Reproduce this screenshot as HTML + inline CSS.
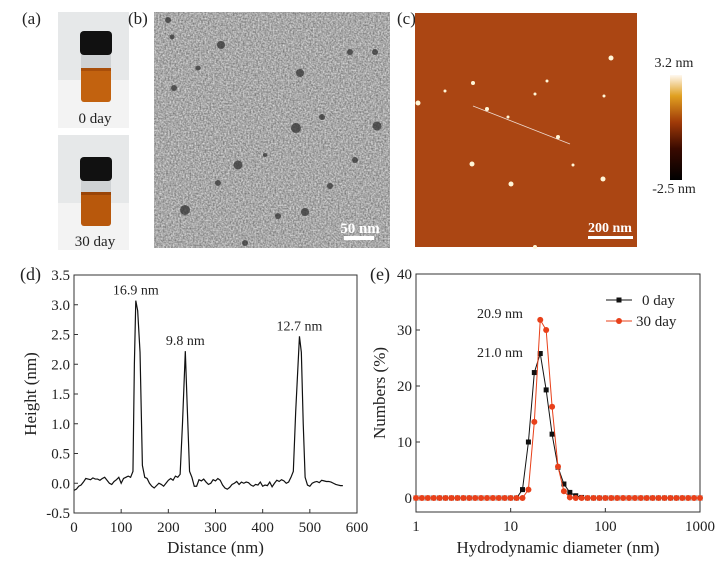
<!DOCTYPE html>
<html><head><meta charset="utf-8">
<style>
body{margin:0;background:#fff;width:719px;height:566px;overflow:hidden;font-family:"Liberation Serif",serif;}
svg{position:absolute;left:0;top:0}
text{font-family:"Liberation Serif",serif;fill:#222}
</style></head>
<body>
<svg width="719" height="566">
<defs>
<filter id="noise" x="0" y="0" width="100%" height="100%" color-interpolation-filters="sRGB">
<feTurbulence type="fractalNoise" baseFrequency="0.6" numOctaves="2" seed="3"/>
<feColorMatrix type="matrix" values="0.6 0 0 0 0.36  0.6 0 0 0 0.36  0.6 0 0 0 0.36  0 0 0 0 1"/>
</filter>
<linearGradient id="cbar" x1="0" y1="1" x2="0" y2="0">
<stop offset="0" stop-color="#000"/><stop offset="0.3" stop-color="#3a0a00"/><stop offset="0.55" stop-color="#a03a08"/><stop offset="0.8" stop-color="#e0a020"/><stop offset="1" stop-color="#fff8f0"/>
</linearGradient>
</defs>

<!-- (a) vials -->
<text x="22" y="24" font-size="17">(a)</text>
<g>
<rect x="58" y="12" width="71" height="116" fill="#e6e8e9"/>
<rect x="58" y="80" width="71" height="48" fill="#f3f3f3"/>
<rect x="81" y="50" width="30" height="52" rx="3" fill="#cfd2d4"/>
<rect x="81" y="68" width="30" height="34" rx="3" fill="#c2620f"/>
<rect x="81" y="68" width="30" height="3" fill="#a84e0a"/>
<rect x="80" y="31" width="32" height="24" rx="4" fill="#111"/>
<text x="95" y="123" font-size="15" text-anchor="middle">0 day</text>
</g>
<g>
<rect x="58" y="135" width="71" height="115" fill="#e6e8e9"/>
<rect x="58" y="203" width="71" height="47" fill="#f3f3f3"/>
<rect x="81" y="172" width="30" height="54" rx="3" fill="#cfd2d4"/>
<rect x="81" y="192" width="30" height="34" rx="3" fill="#b8580c"/>
<rect x="81" y="192" width="30" height="3" fill="#9a4508"/>
<rect x="80" y="157" width="32" height="24" rx="4" fill="#111"/>
<text x="95" y="246" font-size="15" text-anchor="middle">30 day</text>
</g>

<!-- (b) TEM -->
<text x="128" y="24" font-size="17">(b)</text>
<g>
<rect x="154" y="12" width="236" height="236" fill="#a9a9a9" filter="url(#noise)"/>
<g fill="#333" opacity="0.75">
<circle cx="168" cy="20" r="3"/><circle cx="172" cy="37" r="2.5"/><circle cx="221" cy="45" r="4"/><circle cx="300" cy="73" r="4"/><circle cx="174" cy="88" r="3"/><circle cx="198" cy="68" r="2.5"/><circle cx="296" cy="128" r="5"/><circle cx="377" cy="126" r="4.5"/><circle cx="322" cy="117" r="3"/><circle cx="238" cy="165" r="4.5"/><circle cx="355" cy="160" r="3"/><circle cx="330" cy="186" r="3"/><circle cx="185" cy="210" r="5"/><circle cx="305" cy="212" r="4"/><circle cx="278" cy="216" r="3"/><circle cx="350" cy="52" r="3"/><circle cx="375" cy="52" r="3"/><circle cx="218" cy="183" r="3"/><circle cx="245" cy="243" r="3"/><circle cx="265" cy="155" r="2"/></g>
<text x="360" y="233" font-size="15" style="fill:#fff" font-weight="bold" text-anchor="middle">50 nm</text>
<rect x="344" y="236" width="30" height="4" fill="#fff"/>
</g>

<!-- (c) AFM -->
<text x="397" y="24" font-size="17">(c)</text>
<g>
<rect x="415" y="13" width="222" height="234" fill="#ab4613"/>
<g fill="#fff6d8">
<circle cx="611" cy="58" r="2.5"/><circle cx="473" cy="83" r="2"/><circle cx="418" cy="103" r="2.5"/><circle cx="487" cy="109" r="2"/><circle cx="508" cy="117" r="1.5"/><circle cx="558" cy="137" r="2"/><circle cx="472" cy="164" r="2.5"/><circle cx="511" cy="184" r="2.5"/><circle cx="603" cy="179" r="2.5"/><circle cx="547" cy="81" r="1.5"/><circle cx="604" cy="96" r="1.5"/><circle cx="445" cy="91" r="1.5"/><circle cx="535" cy="94" r="1.5"/><circle cx="573" cy="165" r="1.5"/><circle cx="535" cy="247" r="2"/></g>
<line x1="473" y1="106" x2="570" y2="144" stroke="#fff" stroke-width="0.8" opacity="0.8"/>
<text x="610" y="232" font-size="14" font-weight="bold" style="fill:#fff" text-anchor="middle">200 nm</text>
<rect x="588" y="236" width="45" height="3" fill="#fff"/>
</g>
<g>
<rect x="670" y="75" width="12" height="105" fill="url(#cbar)"/>
<text x="674" y="67" font-size="14" text-anchor="middle">3.2 nm</text>
<text x="674" y="193" font-size="14" text-anchor="middle">-2.5 nm</text>
</g>

<g id="chartD"></g>
<g id="chartE"></g>
</svg>
<script>
const NS="http://www.w3.org/2000/svg";
function mk(p,t,a,txt){const e=document.createElementNS(NS,t);for(const k in a)e.setAttribute(k,a[k]);if(txt!==undefined)e.textContent=txt;p.appendChild(e);return e;}

// ---- chart d data ----
const profileX=[0,5,10,15,20,25,30,35,40,45,50,55,60,65,70,75,80,85,90,95,100,105,110,115,120,125,128,131,135,140,145,150,155,160,165,170,175,180,185,190,195,200,205,210,215,220,225,230,236,240,245,250,255,260,265,270,275,280,285,290,295,300,305,310,315,320,325,330,335,340,345,350,355,360,365,370,375,380,385,390,395,400,405,410,415,420,425,430,435,440,445,450,455,460,465,470,478,482,486,490,495,500,505,510,515,520,525,530,535,540,545,550,555,560,565,570];
const profileY=[-0.12,-0.1,-0.05,-0.03,0.02,0.08,0.07,0.06,0.09,0.07,0.07,0.05,0.08,0.1,0.05,0,-0.02,0.03,0.06,0.1,0,0.08,0.1,0.12,0.1,0.2,2.0,3.07,2.9,2.2,0.3,0.1,0.08,0,-0.05,-0.08,-0.04,0,-0.02,-0.05,0,0.05,0.08,0.05,0.12,0.1,0.15,1.0,2.22,1.3,0.2,0.1,-0.05,-0.05,0.06,0.04,0.07,0.02,-0.02,0,0.06,0.04,0.08,0.05,-0.03,-0.08,-0.1,-0.07,-0.02,0,0.03,-0.02,0.02,0,0.02,0.01,-0.03,-0.05,-0.02,-0.03,0.02,-0.05,-0.03,-0.04,0.02,-0.06,0,0.05,0.03,0.06,0.04,0,0.02,0.1,0.2,1.2,2.47,2.2,1.0,0.1,-0.03,-0.05,0,0.02,0.03,0.01,0.05,0.04,0.03,0.03,0.02,0,-0.02,-0.03,-0.04,-0.04];
const dXTicks=[0,100,200,300,400,500,600];
const dYTicks=[-0.5,0,0.5,1,1.5,2,2.5,3,3.5];
const dYLabels=["-0.5","0.0","0.5","1.0","1.5","2.0","2.5","3.0","3.5"];
const peakLabels=["16.9 nm","9.8 nm","12.7 nm"];
const peakX=[131,236,478];
const peakY=[3.07,2.22,2.47];

// ---- chart e data ----
const diamExp=[];for(let i=0;i<=48;i++)diamExp.push(i);
const day0=[0,0,0,0,0,0,0,0,0,0,0,0,0,0,0,0,0,0,1.5,10,22.4,25.8,19.3,11.4,5.5,2.5,1,0.4,0.1,0,0,0,0,0,0,0,0,0,0,0,0,0,0,0,0,0,0,0,0];
const day30=[0,0,0,0,0,0,0,0,0,0,0,0,0,0,0,0,0,0,0,1.5,13.6,31.8,30,16.3,5.6,1.2,0.1,0,0,0,0,0,0,0,0,0,0,0,0,0,0,0,0,0,0,0,0,0,0];
const eXTicks=[1,10,100,1000];
const eYTicks=[0,10,20,30,40];

// ---- draw d ----
(function(){
const g=document.getElementById('chartD');
const L=74,R=357,T=275,B=513;
const xs=v=>L+(v-0)/600*(R-L), ys=v=>B-(v+0.5)/4*(B-T);
mk(g,'rect',{x:L,y:T,width:R-L,height:B-T,fill:'none',stroke:'#333','stroke-width':1});
dXTicks.forEach(v=>{const t=mk(g,'line',{x1:xs(v),x2:xs(v),y1:B,y2:B-4,stroke:'#333'});
const l=mk(g,'text',{x:xs(v),y:B+19,'font-size':15,'text-anchor':'middle'},v);});
dYTicks.forEach((v,i)=>{const t=mk(g,'line',{x1:L,x2:L+4,y1:ys(v),y2:ys(v),stroke:'#333'});
const l=mk(g,'text',{x:L-4,y:ys(v)+5,'font-size':15,'text-anchor':'end'},dYLabels[i]);});
const lbl=mk(g,'text',{x:20,y:280,'font-size':18},'(d)');
const xt=mk(g,'text',{x:(L+R)/2,y:553,'font-size':17,'text-anchor':'middle'},'Distance (nm)');
const yt=mk(g,'text',{x:0,y:0,'font-size':17,'text-anchor':'middle',transform:`translate(36,${(T+B)/2}) rotate(-90)`},'Height (nm)');
const pl=mk(g,'polyline',{points:profileX.map((x,i)=>xs(x)+','+ys(profileY[i])).join(' '),fill:'none',stroke:'#111','stroke-width':1.2});

peakLabels.forEach((s,i)=>{const t=mk(g,'text',{x:xs(peakX[i]),y:ys(peakY[i])-6,'font-size':14,'text-anchor':'middle'},s);});
})();

// ---- draw e ----
(function(){
const g=document.getElementById('chartE');
const L=416,R=700,T=274,B=512;
const xs=v=>L+Math.log10(v)/3*(R-L), ys=v=>B-(v+2.5)/42.5*(B-T);
mk(g,'rect',{x:L,y:T,width:R-L,height:B-T,fill:'none',stroke:'#333','stroke-width':1});
eXTicks.forEach(v=>{const t=mk(g,'line',{x1:xs(v),x2:xs(v),y1:B,y2:B-4,stroke:'#333'});
const l=mk(g,'text',{x:xs(v),y:B+19,'font-size':15,'text-anchor':'middle'},v);});
eYTicks.forEach(v=>{const t=mk(g,'line',{x1:L,x2:L+4,y1:ys(v),y2:ys(v),stroke:'#333'});
const l=mk(g,'text',{x:L-4,y:ys(v)+5,'font-size':15,'text-anchor':'end'},v);});
const lbl=mk(g,'text',{x:370,y:280,'font-size':18},'(e)');
const xt=mk(g,'text',{x:(L+R)/2,y:553,'font-size':17,'text-anchor':'middle'},'Hydrodynamic diameter (nm)');
const yt=mk(g,'text',{x:0,y:0,'font-size':17,'text-anchor':'middle',transform:`translate(385,${(T+B)/2}) rotate(-90)`},'Numbers (%)');
const px=i=>xs(Math.pow(10,diamExp[i]/16));
const l0=mk(g,'polyline',{points:day0.map((v,i)=>px(i)+','+ys(v)).join(' '),fill:'none',stroke:'#111','stroke-width':1});

day0.forEach((v,i)=>{const m=mk(g,'rect',{x:px(i)-2.5,y:ys(v)-2.5,width:5,height:5,fill:'#111'});});
const l1=mk(g,'polyline',{points:day30.map((v,i)=>px(i)+','+ys(v)).join(' '),fill:'none',stroke:'#e8401a','stroke-width':1});

day30.forEach((v,i)=>{const m=mk(g,'circle',{cx:px(i),cy:ys(v),r:3,fill:'#e8401a'});});
// legend
const lg=mk(g,'g',{});
mk(lg,'line',{x1:606,x2:632,y1:300,y2:300,stroke:'#111'});mk(lg,'rect',{x:616.5,y:297.5,width:5,height:5,fill:'#111'});
mk(lg,'text',{x:642,y:305,'font-size':15},'0 day');
mk(lg,'line',{x1:606,x2:632,y1:321,y2:321,stroke:'#e8401a'});mk(lg,'circle',{cx:619,cy:321,r:3,fill:'#e8401a'});
mk(lg,'text',{x:636,y:326,'font-size':15},'30 day');
const a1=mk(g,'text',{x:500,y:318,'font-size':14,'text-anchor':'middle'},'20.9 nm');
const a2=mk(g,'text',{x:500,y:357,'font-size':14,'text-anchor':'middle'},'21.0 nm');
})();
</script>
</body></html>
